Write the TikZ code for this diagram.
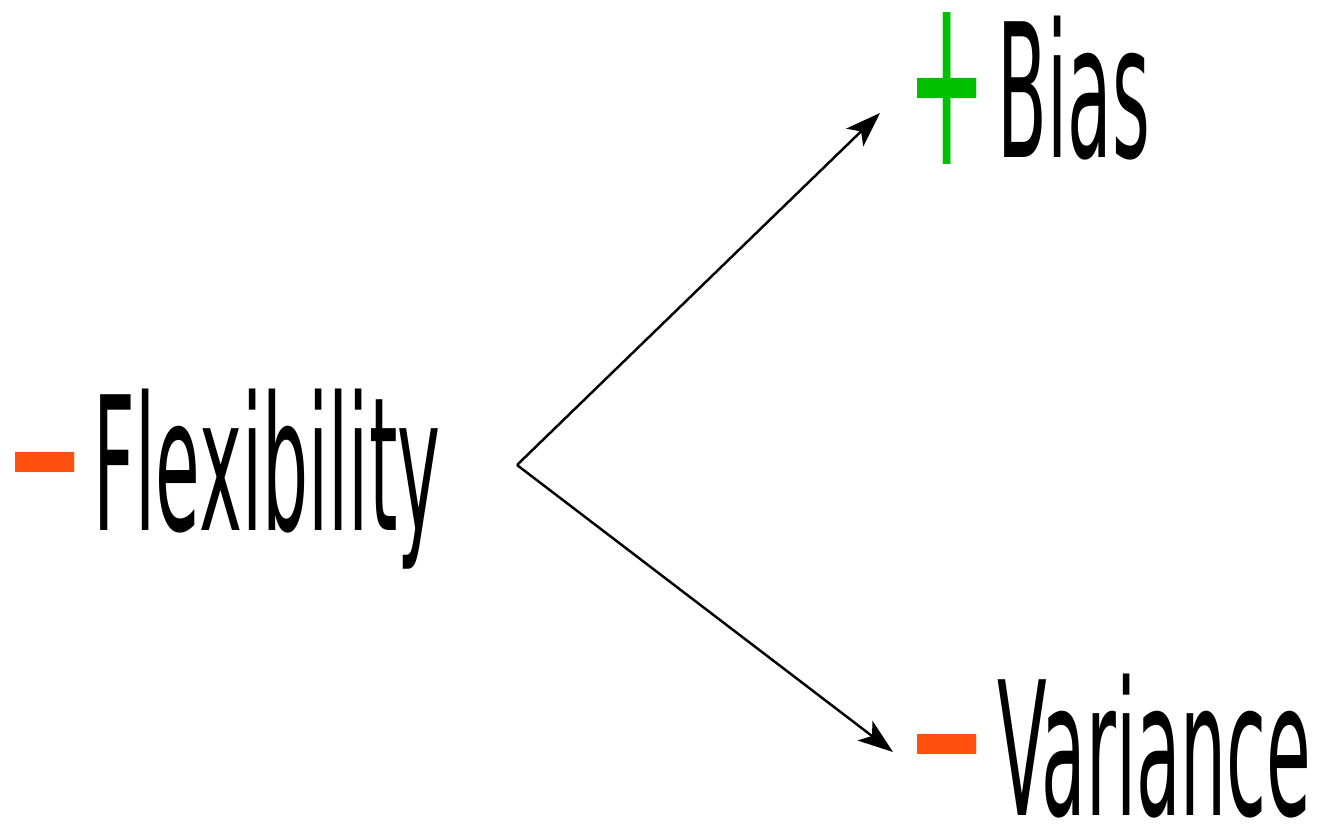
\documentclass[tikz,border=0pt]{standalone}
\usepackage{fontspec}
\usepackage{tikz}
\usetikzlibrary{arrows.meta, positioning}
\usepackage{xcolor}
\newfontfamily\narrowfont[FakeStretch=0.39]{DejaVu Sans}
\definecolor{signgreen}{HTML}{00C000}
\definecolor{signorange}{HTML}{FF5010}

\begin{document}
\begin{tikzpicture}[
      word/.style={inner sep=0pt, anchor=base west, font=\narrowfont\fontsize{53}{60}\selectfont},
      sign/.style={inner sep=0pt, font=\narrowfont\fontsize{69}{76}\selectfont},
      arr/.style={-{Stealth[length=10pt, width=7pt, inset=2.5pt]}, line width=0.7pt}
    ]
      \useasboundingbox (0, 0) rectangle (13.44, 8.30);

      \node[word] (flex) at (0.93, 3.00) {Flexibility};
      \node[sign, text=signorange] (flexminus) at (0.45, 3.35) {−};

      \node[word] (bias) at (9.97, 6.73) {Bias};
      \node[sign, text=signgreen] (biasplus) at (9.47, 7.42) {+};

      \node[word] (var) at (9.97, 0.15) {Variance};
      \node[sign, text=signorange] (varminus) at (9.47, 0.53) {−};

      \coordinate (fork) at (5.17, 3.65);
      \coordinate (uptip) at (8.80, 7.17);
      \coordinate (downtip) at (8.93, 0.78);

      \draw[arr] (fork) -- (uptip);
      \draw[arr] (fork) -- (downtip);
    \end{tikzpicture}
\end{document}
